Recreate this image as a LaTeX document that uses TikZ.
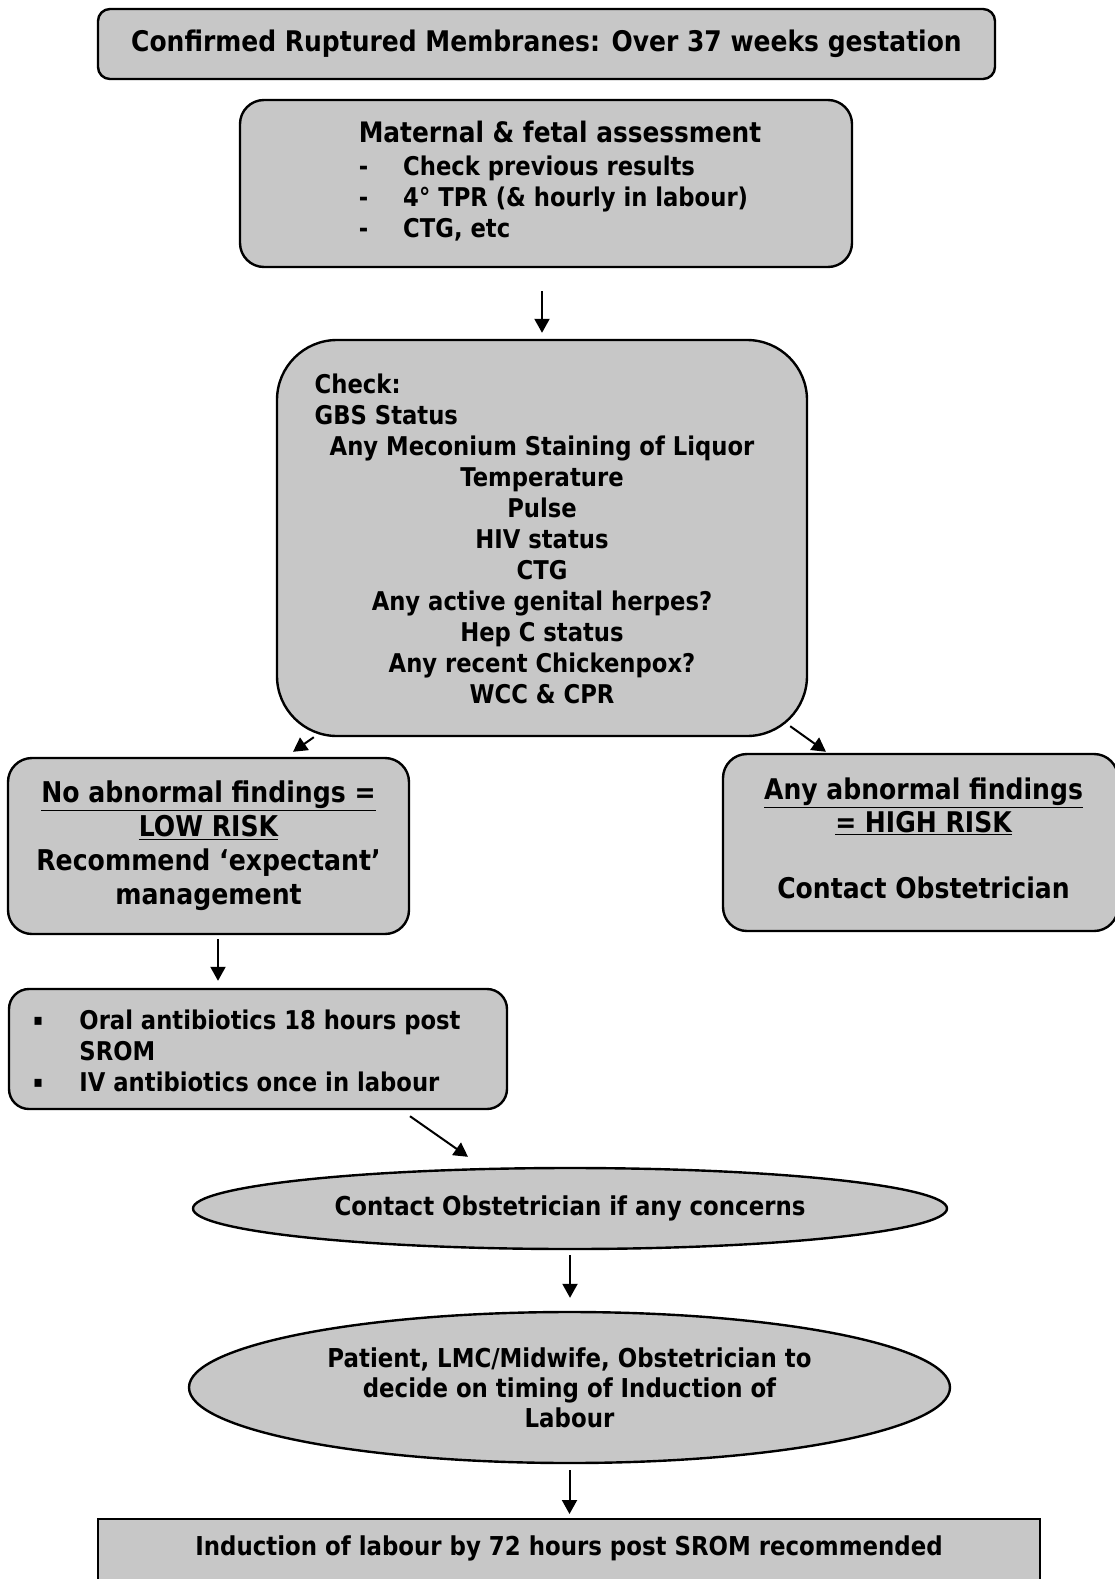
\documentclass[tikz,border=0pt]{standalone}
\usepackage{fontspec}
\setmainfont{DejaVu Sans}[FakeStretch=0.88]
\usetikzlibrary{shapes.geometric, arrows.meta}
\definecolor{boxgray}{gray}{0.78}

\begin{document}
\begin{tikzpicture}[x=1pt, y=-1pt, >={Triangle[length=14pt,width=15pt]},
	box/.style={draw, line width=2.4pt, fill=boxgray, rounded corners=#1, inner sep=0pt,
		font=\bfseries\fontsize{25.8}{31}\selectfont},
	box/.default=24pt,
	oval/.style={draw, ellipse, line width=2.4pt, fill=boxgray, inner sep=0pt,
		font=\bfseries\fontsize{26}{30}\selectfont},
	link/.style={->, line width=2pt}]
		\useasboundingbox (0,0) rectangle (1115,1579);
		\node[box=12pt, minimum width=897pt, minimum height=70pt, font=\bfseries\fontsize{28.4}{32}\selectfont] at (546.5,44) (title) {Confirmed Ruptured Membranes: Over 37 weeks gestation};
		\node[box, minimum width=612pt, minimum height=167pt] at (546,183.5) (maternal) {\hspace*{28pt}\begin{tabular}{@{}p{44.5pt}@{}l@{}}
			\multicolumn{2}{@{}l@{}}{\fontsize{28.2}{31}\selectfont Maternal \& fetal assessment}\\[2pt]
			-&Check previous results\\
			-&4° TPR (\& hourly in labour)\\
			-&CTG, etc
		\end{tabular}};
		\node[box=60pt, minimum width=530pt, minimum height=396pt] at (542,538) (check) {\begin{tabular}{@{}c@{}}
			\multicolumn{1}{@{}l@{}}{\rule{0pt}{30pt}\hspace*{-15pt}Check:}\\
			\multicolumn{1}{@{}l@{}}{\hspace*{-15pt}GBS Status}\\
			Any Meconium Staining of Liquor\\
			Temperature\\
			Pulse\\
			HIV status\\
			CTG\\
			Any active genital herpes?\\
			Hep C status\\
			Any recent Chickenpox?\\
			WCC \& CPR
		\end{tabular}};
		\node[box, minimum width=401pt, minimum height=176pt, font=\bfseries\fontsize{28.6}{34}\selectfont] at (208.5,846) (low) {\begin{tabular}{@{}c@{}}
			\rule{0pt}{26pt}\underline{No abnormal findings =}\\
			\underline{LOW RISK}\\
			Recommend ‘expectant’\\
			management
		\end{tabular}};
		\node[box, minimum width=395pt, minimum height=177pt, font=\bfseries\fontsize{28.5}{33}\selectfont] at (920.5,842.5) (high) {\hspace*{6pt}\begin{tabular}{@{}c@{}}
			\underline{Any abnormal findings}\\
			\underline{= HIGH RISK}\\
			\\
			Contact Obstetrician
		\end{tabular}};
		\node[box=20pt, minimum width=498pt, minimum height=120pt] at (258,1049) (abx) {\begin{tabular}{@{}p{46pt}@{}l@{}}
			\rule{0pt}{32pt}\raisebox{4pt}{\fontsize{16}{16}\selectfont ▪}&Oral antibiotics 18 hours post\\
			&SROM\\
			\raisebox{4pt}{\fontsize{16}{16}\selectfont ▪}&IV antibiotics once in labour
		\end{tabular}\hspace*{22pt}};
		\node[oval, minimum width=754pt, minimum height=81pt] at (570,1208.5) (concerns) {Contact Obstetrician if any concerns};
		\node[oval, minimum width=761pt, minimum height=151pt] at (569.5,1387.5) (decide) {\begin{tabular}{@{}c@{}}
			\rule{0pt}{28pt}Patient, LMC/Midwife, Obstetrician to\\
			decide on timing of Induction of\\
			Labour
		\end{tabular}};
		\node[box=0pt, minimum width=942pt, anchor=north, text height=36pt, text depth=60pt, font=\bfseries\fontsize{26}{31}\selectfont] at (569,1518) (induction) {Induction of labour by 72 hours post SROM recommended};
		% connectors
		\draw[link, shorten <=23pt, shorten >=6pt] (check.north |- maternal.south) -- (check.north);
		\draw[link] ([xshift=38pt]check.south west) -- ([xshift=84.5pt,yshift=5pt]low.north);
		\draw[link] ([xshift=-18pt,yshift=11pt]check.south east) -- ([xshift=-94.5pt,yshift=1pt]high.north);
		\draw[link] ([xshift=9.5pt,yshift=-4pt]low.south) -- ([xshift=-40pt,yshift=7pt]abx.north);
		\draw[link] ([xshift=152pt,yshift=-6pt]abx.south) -- ([xshift=-102pt,yshift=10pt]concerns.north);
		\draw[link, shorten <=5pt, shorten >=13pt] (concerns.south) -- (concerns.south |- decide.north);
		\draw[link, shorten <=6pt, shorten >=4pt] (decide.south) -- (decide.south |- induction.north);
	\end{tikzpicture}
\end{document}
